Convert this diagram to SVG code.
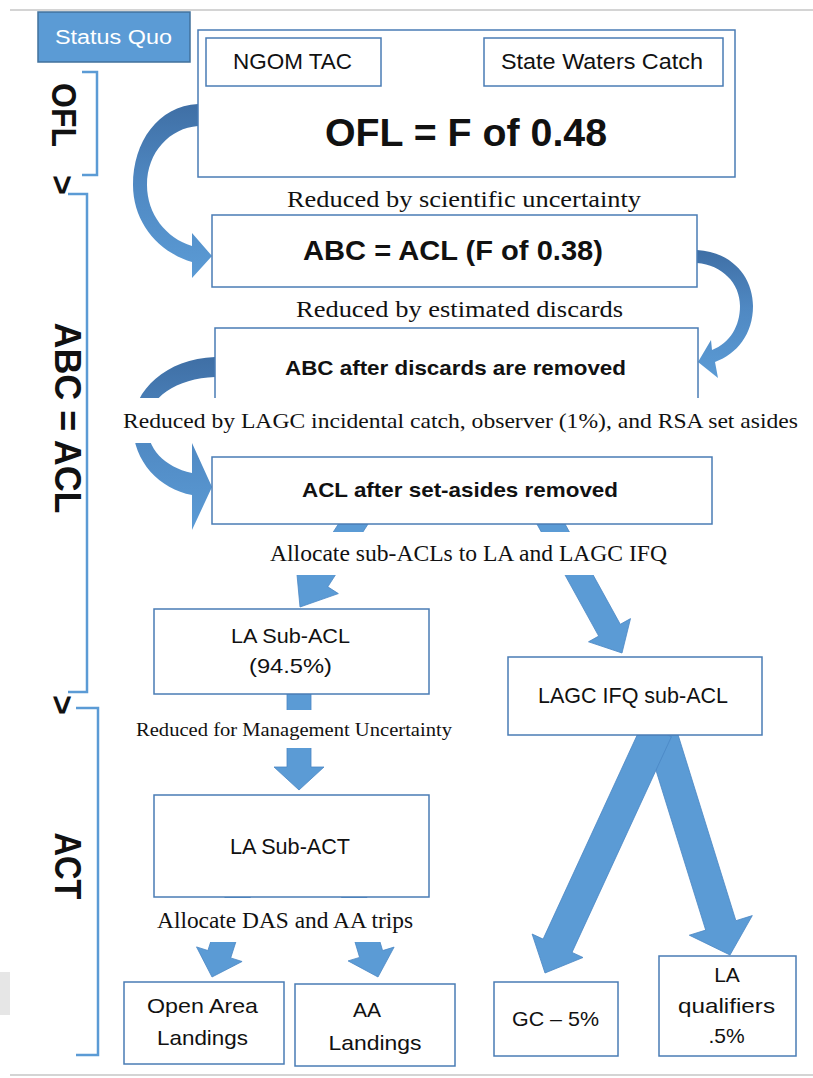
<svg xmlns="http://www.w3.org/2000/svg" width="813" height="1078" viewBox="0 0 813 1078">
<defs>
<linearGradient id="curveGrad" x1="0" y1="0" x2="0" y2="1">
<stop offset="0" stop-color="#3f6fa5"/>
<stop offset="0.45" stop-color="#4f88c2"/>
<stop offset="1" stop-color="#5b9bd5"/>
</linearGradient>
<style>
.box{fill:#fff;stroke:#4a7cb5;stroke-width:1.5}
.arrow{fill:#5b9bd5;stroke:#4a86c4;stroke-width:0.8}
.curve{fill:url(#curveGrad);stroke:none}
.bracket{fill:none;stroke:#5b9bd5;stroke-width:2.5}
.sans{font-family:"Liberation Sans",Arial,sans-serif;fill:#111;text-anchor:middle}
.serif{font-family:"Liberation Serif","Times New Roman",serif;fill:#111;text-anchor:middle}
.bold{font-weight:bold}
.bg{fill:#fff}
</style>
</defs>
<rect width="813" height="1078" fill="#fff"/>
<line x1="10" y1="10" x2="813" y2="10" stroke="#d4d4d4" stroke-width="2"/>
<line x1="10" y1="1075" x2="813" y2="1075" stroke="#d4d4d4" stroke-width="2"/>
<rect x="0" y="972" width="10" height="43" fill="#e6e6e6"/>

<g id="brackets">
<path class="bracket" d="M82,72 H97 V175 H82"/>
<path class="bracket" d="M68,194 H87 V692 H68"/>
<path class="bracket" d="M76,708 H98 V1055 H76"/>
<text class="sans bold" font-size="35" textLength="64" lengthAdjust="spacingAndGlyphs" transform="translate(52,115) rotate(90)">OFL</text>
<text class="sans bold" font-size="34" transform="translate(51,185) rotate(90)">&gt;</text>
<text class="sans bold" font-size="36" textLength="191" lengthAdjust="spacingAndGlyphs" transform="translate(55,418) rotate(90)">ABC = ACL</text>
<text class="sans bold" font-size="34" transform="translate(51,705) rotate(90)">&gt;</text>
<text class="sans bold" font-size="36" textLength="67" lengthAdjust="spacingAndGlyphs" transform="translate(55,866) rotate(90)">ACT</text>
</g>

<g id="connectors">
<path class="curve" d="M198,104 C158,106 133,142 133,185 C133,222 158,252 192,262 L192,278 L212,256 L192,233 L192,246 C166,238 147,214 147,185 C147,152 170,128 198,126 Z"/>
<path class="curve" d="M697,250 C733,252 753,278 753,306 C753,334 737,354 715,362 L718,378 L698,362 L711,340 L712,350 C730,343 740,326 740,306 C740,283 722,265 697,263 Z"/>
<path class="curve" d="M215,357 C166,359 133,390 133,425 C133,462 160,489 192,495 L192,530 L212,487 L192,443 L192,473 C164,467 147,448 147,425 C147,398 177,378 215,377 Z"/>
<polygon class="arrow" points="348.5,508.25 306.8,573.35 296.25,566.6 300,607 338.35,593.6 327.8,586.85 369.5,521.75"/>
<polygon class="arrow" points="535.2,520.9 598.7,636.1 588.5,641.8 622,653 630.5,618.6 620.3,624.3 556.8,509.1"/>
<polygon class="arrow" points="287,690 311,690 311,767 324,767 299,790 274,767 287,767"/>
<polygon class="arrow" points="644.9,734.7 705.7,930.1 689.3,935.2 730,955 752.3,915.6 735.9,920.7 675.1,725.3"/>
<polygon class="arrow" points="642.56,723.34 543.1,939.1 532.1,934 545,973 583,957.5 572,952.4 671.44,736.66"/>
<polygon class="arrow" points="228.6,886.3 207.9,950.5 196.5,946.9 212,977 242.1,961.5 230.7,957.9 251.4,893.7"/>
<polygon class="arrow" points="340.5,893.4 359.6,957.4 348.1,960.9 378,977 394.1,947.1 382.6,950.6 363.5,886.6"/>
</g>

<g id="node-status-quo">
<rect x="38" y="12" width="152" height="50" fill="#5b9bd5" stroke="#41719c" stroke-width="1.5"/>
<text class="sans" x="113.5" y="44" font-size="20" style="fill:#fff" textLength="117" lengthAdjust="spacingAndGlyphs">Status Quo</text>
</g>
<g id="node-ofl">
<rect class="box" x="198" y="30" width="537" height="147"/>
<text class="sans bold" x="466" y="146" font-size="39" textLength="282" lengthAdjust="spacingAndGlyphs">OFL = F of 0.48</text>
</g>
<g id="node-ngom-tac">
<rect class="box" x="206" y="38" width="175" height="48"/>
<text class="sans" x="292.5" y="69" font-size="22" textLength="119" lengthAdjust="spacingAndGlyphs">NGOM TAC</text>
</g>
<g id="node-state-waters">
<rect class="box" x="484" y="38" width="239" height="48"/>
<text class="sans" x="602" y="69" font-size="22" textLength="202" lengthAdjust="spacingAndGlyphs">State Waters Catch</text>
</g>
<g id="node-abc-acl">
<rect class="box" x="212" y="215" width="485" height="72"/>
<text class="sans bold" x="453" y="260" font-size="28" textLength="300" lengthAdjust="spacingAndGlyphs">ABC = ACL (F of 0.38)</text>
</g>
<g id="node-abc-after-discards">
<rect class="box" x="215" y="328" width="483" height="92"/>
<text class="sans bold" x="455.5" y="375" font-size="21" textLength="341" lengthAdjust="spacingAndGlyphs">ABC after discards are removed</text>
</g>
<g id="node-acl-after-setasides">
<rect class="box" x="212" y="457" width="500" height="67"/>
<text class="sans bold" x="460" y="497" font-size="21" textLength="316" lengthAdjust="spacingAndGlyphs">ACL after set-asides removed</text>
</g>
<g id="node-la-sub-acl">
<rect class="box" x="154" y="609" width="275" height="85"/>
<text class="sans" x="290.5" y="643" font-size="21" textLength="119" lengthAdjust="spacingAndGlyphs">LA Sub-ACL</text>
<text class="sans" x="290.5" y="673" font-size="21" textLength="83" lengthAdjust="spacingAndGlyphs">(94.5%)</text>
</g>
<g id="node-lagc-ifq">
<rect class="box" x="508" y="657" width="254" height="78"/>
<text class="sans" x="633" y="703" font-size="22" textLength="190" lengthAdjust="spacingAndGlyphs">LAGC IFQ sub-ACL</text>
</g>
<g id="node-la-sub-act">
<rect class="box" x="154" y="795" width="275" height="102"/>
<text class="sans" x="290" y="854" font-size="22" textLength="120" lengthAdjust="spacingAndGlyphs">LA Sub-ACT</text>
</g>
<g id="node-open-area">
<rect class="box" x="124" y="982" width="160" height="82"/>
<text class="sans" x="202.5" y="1013" font-size="21" textLength="111" lengthAdjust="spacingAndGlyphs">Open Area</text>
<text class="sans" x="202.5" y="1045" font-size="21" textLength="91" lengthAdjust="spacingAndGlyphs">Landings</text>
</g>
<g id="node-aa">
<rect class="box" x="295" y="984" width="160" height="82"/>
<text class="sans" x="367" y="1017" font-size="21">AA</text>
<text class="sans" x="375" y="1050" font-size="21" textLength="93" lengthAdjust="spacingAndGlyphs">Landings</text>
</g>
<g id="node-gc">
<rect class="box" x="494" y="982" width="124" height="74"/>
<text class="sans" x="555.5" y="1026" font-size="21" textLength="87" lengthAdjust="spacingAndGlyphs">GC – 5%</text>
</g>
<g id="node-la-qualifiers">
<rect class="box" x="659" y="956" width="137" height="100"/>
<text class="sans" x="727" y="982" font-size="21">LA</text>
<text class="sans" x="726.5" y="1013" font-size="21" textLength="97" lengthAdjust="spacingAndGlyphs">qualifiers</text>
<text class="sans" x="726.5" y="1043" font-size="21">.5%</text>
</g>

<g id="connector-labels">
<text class="serif" x="464" y="207" font-size="24" textLength="354" lengthAdjust="spacingAndGlyphs">Reduced by scientific uncertainty</text>
<text class="serif" x="459.5" y="317" font-size="24" textLength="327" lengthAdjust="spacingAndGlyphs">Reduced by estimated discards</text>
<rect class="bg" x="118" y="398" width="687" height="45"/>
<text class="serif" x="460.5" y="428" font-size="22" textLength="675" lengthAdjust="spacingAndGlyphs">Reduced by LAGC incidental catch, observer (1%), and RSA set asides</text>
<rect class="bg" x="262" y="532" width="413" height="43"/>
<text class="serif" x="468.5" y="561" font-size="24" textLength="397" lengthAdjust="spacingAndGlyphs">Allocate sub-ACLs to LA and LAGC IFQ</text>
<rect class="bg" x="130" y="710" width="328" height="38"/>
<text class="serif" x="294" y="736" font-size="19" textLength="316" lengthAdjust="spacingAndGlyphs">Reduced for Management Uncertainty</text>
<rect class="bg" x="150" y="898" width="270" height="44"/>
<text class="serif" x="285" y="928" font-size="23" textLength="256" lengthAdjust="spacingAndGlyphs">Allocate DAS and AA trips</text>
</g>
</svg>
